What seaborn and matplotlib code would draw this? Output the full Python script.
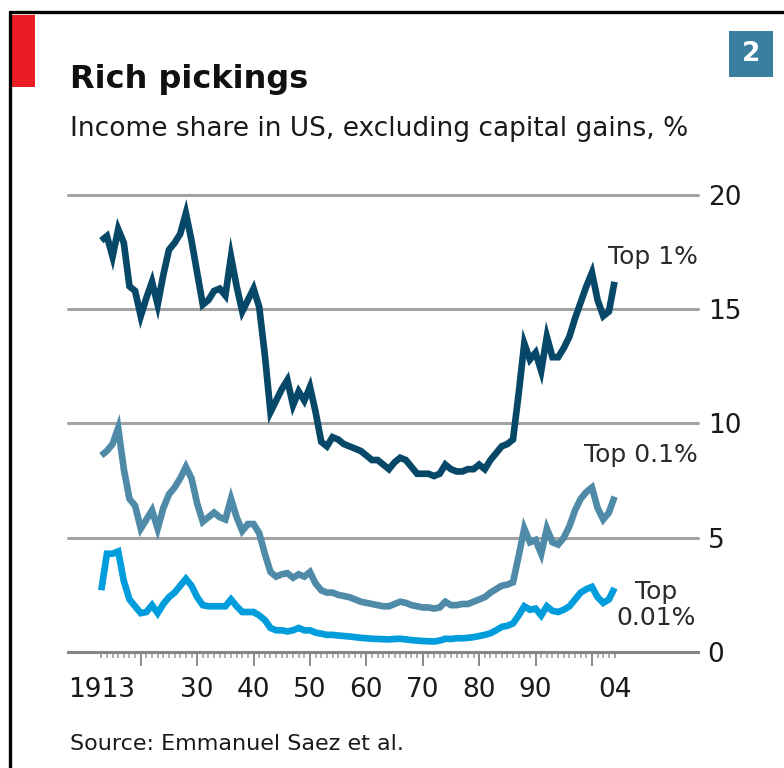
import pandas as pd
import matplotlib.pyplot as plt
import seaborn as sns
from matplotlib.patches import Rectangle
from matplotlib.lines import Line2D


years = list(range(1913, 2005))

top1 = [18.0, 18.2, 17.3, 18.5, 17.9, 16.0, 15.8, 14.7, 15.5, 16.2,
        15.2, 16.5, 17.6, 17.9, 18.3, 19.2, 18.0, 16.6, 15.2, 15.4,
        15.8, 15.9, 15.6, 17.3, 16.0, 14.9, 15.4, 15.9, 15.1, 13.0,
        10.5, 11.0, 11.5, 11.9, 10.8, 11.4, 11.0, 11.6, 10.5, 9.2,
        9.0, 9.4, 9.3, 9.1, 9.0, 8.9, 8.8, 8.6, 8.4, 8.4,
        8.2, 8.0, 8.3, 8.5, 8.4, 8.1, 7.8, 7.8, 7.8, 7.7,
        7.8, 8.2, 8.0, 7.9, 7.9, 8.0, 8.0, 8.2, 8.0, 8.4,
        8.7, 9.0, 9.1, 9.3, 11.3, 13.5, 12.8, 13.1, 12.3, 13.8,
        12.9, 12.9, 13.3, 13.8, 14.6, 15.3, 16.0, 16.6, 15.4, 14.7,
        14.9, 16.2]

top01 = [8.6, 8.8, 9.1, 9.8, 8.0, 6.7, 6.4, 5.4, 5.8, 6.2,
         5.4, 6.3, 6.9, 7.2, 7.6, 8.1, 7.6, 6.5, 5.7, 5.9,
         6.1, 5.9, 5.8, 6.7, 5.9, 5.3, 5.6, 5.6, 5.2, 4.3,
         3.5, 3.3, 3.4, 3.45, 3.25, 3.4, 3.3, 3.5, 3.0, 2.7,
         2.6, 2.6, 2.5, 2.45, 2.4, 2.3, 2.2, 2.15, 2.1, 2.05,
         2.0, 2.0, 2.1, 2.2, 2.15, 2.05, 2.0, 1.95, 1.95, 1.9,
         1.95, 2.2, 2.05, 2.05, 2.1, 2.1, 2.2, 2.3, 2.4, 2.6,
         2.75, 2.9, 2.95, 3.05, 4.2, 5.4, 4.8, 4.9, 4.3, 5.4,
         4.8, 4.7, 5.0, 5.5, 6.2, 6.7, 7.0, 7.2, 6.3, 5.8,
         6.1, 6.8]

top001 = [2.7, 4.3, 4.3, 4.4, 3.1, 2.3, 2.0, 1.7, 1.75, 2.05,
          1.7, 2.1, 2.4, 2.6, 2.9, 3.2, 2.9, 2.4, 2.05, 2.0,
          2.0, 2.0, 2.0, 2.3, 2.0, 1.75, 1.75, 1.75, 1.6, 1.4,
          1.05, 0.95, 0.95, 0.9, 0.95, 1.05, 0.95, 0.95, 0.85, 0.8,
          0.75, 0.75, 0.72, 0.7, 0.68, 0.65, 0.62, 0.6, 0.58, 0.57,
          0.56, 0.55, 0.57, 0.58, 0.55, 0.52, 0.5, 0.48, 0.47, 0.46,
          0.5, 0.58, 0.57, 0.6, 0.6, 0.62, 0.65, 0.7, 0.75, 0.82,
          0.95, 1.1, 1.15, 1.25, 1.6, 2.0, 1.85, 1.9, 1.6, 2.0,
          1.8, 1.75, 1.85, 2.0, 2.3, 2.6, 2.75, 2.85, 2.4, 2.15,
          2.3, 2.8]

groups = ['Top 1%', 'Top 0.1%', 'Top 0.01%']
colors = ['#074868', '#4f8ba8', '#009ddd']

xtick_pos = [1913, 1920, 1930, 1940, 1950, 1960, 1970, 1980, 1990, 2000, 2004]
xtick_lab = ['1913', '', '30', '40', '50', '60', '70', '80', '90', '', '04']
yticks = [0, 5, 10, 15, 20]

df = pd.concat([
    pd.DataFrame({'year': years, 'share': vals, 'group': g})
    for g, vals in zip(groups, [top1, top01, top001])
])

sns.set_style('white')
plt.rcParams['font.family'] = ['DejaVu Sans']

W, H = 784, 768
fig = plt.figure(figsize=(W / 100, H / 100), dpi=100)
ax = fig.add_axes([68 / W, 1 - 652 / H, 630 / W, (652 - 188.1) / H])

for y in [5, 10, 15, 20]:
    ax.axhline(y, color='#a3a3a3', lw=2.2, zorder=0, clip_on=False)

sns.lineplot(data=df, x='year', y='share', hue='group', hue_order=groups,
             palette=colors, linewidth=4.8, legend=False, ax=ax,
             solid_joinstyle='miter', solid_capstyle='butt')

ax.set_xlim(1907.1, 2018.8)
ax.set_ylim(0, 20.3)
ax.set_xlabel('')
ax.set_ylabel('')

for s in ['top', 'left', 'right']:
    ax.spines[s].set_visible(False)
ax.spines['bottom'].set_color('#858585')
ax.spines['bottom'].set_linewidth(2.2)

ax.set_xticks(xtick_pos)
ax.set_xticklabels(xtick_lab)
ax.set_xticks(years, minor=True)
ax.tick_params(axis='x', which='both', bottom=True, top=False)
ax.tick_params(axis='x', which='major', length=10, width=1.4, color='#8a8a8a',
               pad=8, labelsize=19, labelcolor='#1a1a1a', direction='out')
ax.tick_params(axis='x', which='minor', length=4.5, width=1.1, color='#9a9a9a',
               direction='out')
for t, pos in zip(ax.xaxis.get_major_ticks(), xtick_pos):
    if pos in (1913, 2004):
        t.tick1line.set_markersize(4.5)
        t.tick1line.set_markeredgewidth(1.1)

ax.yaxis.tick_right()
ax.set_yticks(yticks)
ax.set_yticklabels([str(v) for v in yticks])
ax.tick_params(axis='y', length=0, pad=7, labelsize=19, labelcolor='#1a1a1a')

lab_kw = dict(fontsize=18, color='#2a2a2a')
ax.text(2018.8, 17.3, 'Top 1%', ha='right', va='center', **lab_kw)
ax.text(2018.8, 8.6, 'Top 0.1%', ha='right', va='center', **lab_kw)
ax.text(2011.3, 2.05, 'Top\n0.01%', ha='center', va='center',
        multialignment='center', linespacing=1.1, **lab_kw)

# header / frame
fig.add_artist(Line2D([10 / W, 10 / W], [0, 1 - 12 / H], color='black', lw=2.4))
fig.add_artist(Line2D([10 / W, 1], [1 - 12 / H, 1 - 12 / H], color='black', lw=2.4))
fig.add_artist(Rectangle((12 / W, 1 - 87 / H), 23 / W, 72 / H,
                         color='#ec1c24', lw=0))
fig.add_artist(Rectangle((729 / W, 1 - 77 / H), 44 / W, 46 / H,
                         color='#3b7fa0', lw=0))
fig.text(751 / W, 1 - 54 / H, '2', color='white', fontsize=19,
         fontweight='bold', ha='center', va='center')

fig.text(70 / W, 1 - 88 / H, 'Rich pickings', fontsize=23, fontweight='bold',
         color='#111111', ha='left', va='baseline')
fig.text(70 / W, 1 - 136 / H, 'Income share in US, excluding capital gains, %',
         fontsize=19, color='#1a1a1a', ha='left', va='baseline')
fig.text(70 / W, 1 - 750 / H, 'Source: Emmanuel Saez et al.',
         fontsize=16, color='#1a1a1a', ha='left', va='baseline')

fig.savefig('out.png', dpi=100)
